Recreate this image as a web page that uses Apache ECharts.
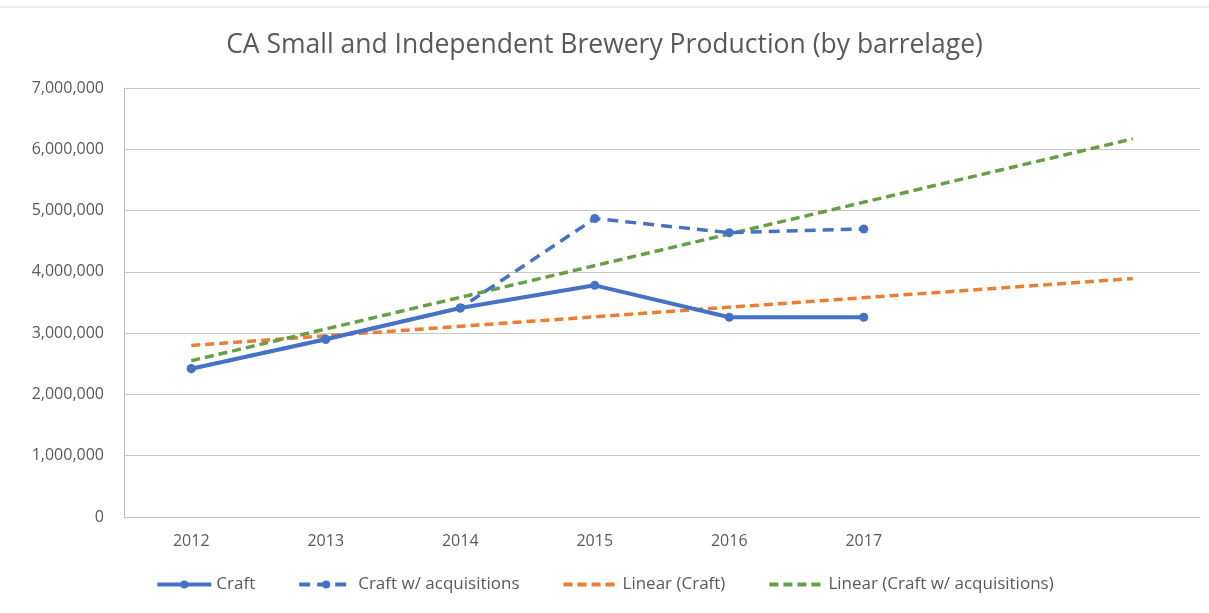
<!DOCTYPE html>
<html>
<head>
<meta charset="utf-8">
<script src="https://cdn.jsdelivr.net/npm/echarts@6/dist/echarts.min.js"></script>
<style>
  html, body { margin: 0; padding: 0; background: #ffffff; }
  #chart { width: 1209px; height: 613px; }
</style>
</head>
<body>
<div id="chart"></div>
<script>
  // categories (last two are empty, trendlines forecast into them)
  const years = ['2012', '2013', '2014', '2015', '2016', '2017', '', '']
  const craft = [2420000, 2900000, 3410000, 3780000, 3260000, 3260000, null, null]
  const craftAcq = [2420000, 2900000, 3410000, 4870000, 4640000, 4700000, null, null]
  // trendline endpoints
  const linearCraft = [2800000, null, null, null, null, null, null, 3890000]
  const linearAcq = [2550000, null, null, null, null, null, null, 6170000]
  const yTicks = { min: 0, max: 7000000, interval: 1000000 }

  const blue = '#4472C4'
  const orange = '#ED7D31'
  const green = '#65A043'
  const textColor = '#595959'
  const font = 'Open Sans'

  let chart = echarts.init(document.getElementById('chart'))
  chart.setOption({
    backgroundColor: '#ffffff',
    animation: false,
    title: {
      text: 'CA Small and Independent Brewery Production (by barrelage)',
      left: 'center',
      top: 27,
      textStyle: { fontFamily: font, fontSize: 26.5, fontWeight: 'normal', color: textColor },
    },
    graphic: [
      {
        type: 'line',
        shape: { x1: 0, y1: 7, x2: 1209, y2: 7 },
        style: { stroke: '#D9D9D9', lineWidth: 1 },
      },
    ],
    grid: { left: 124, right: 9, top: 88, bottom: 96 },
    legend: {
      bottom: 15,
      left: 'center',
      itemWidth: 54,
      itemHeight: 10,
      itemGap: 42,
      lineStyle: { width: 4 },
      textStyle: { fontFamily: font, fontSize: 17, color: textColor },
      data: [
        'Craft',
        'Craft w/ acquisitions',
        { name: 'Linear (Craft)', itemStyle: { opacity: 0 } },
        { name: 'Linear (Craft w/ acquisitions)', itemStyle: { opacity: 0 } },
      ],
    },
    xAxis: {
      type: 'category',
      data: years,
      boundaryGap: true,
      axisLine: { lineStyle: { color: '#BFBFBF', width: 1 } },
      axisTick: { show: false },
      axisLabel: { fontFamily: font, fontSize: 16, color: textColor, margin: 16 },
    },
    yAxis: {
      type: 'value',
      min: yTicks.min,
      max: yTicks.max,
      interval: yTicks.interval,
      axisLine: { show: true, lineStyle: { color: '#BFBFBF', width: 1 } },
      axisTick: { show: false },
      splitLine: { lineStyle: { color: '#C8C8C8', width: 1 } },
      axisLabel: {
        fontFamily: font,
        fontSize: 16,
        color: textColor,
        margin: 20,
        formatter: (v) => v.toLocaleString('en-US'),
      },
    },
    series: [
      {
        name: 'Craft',
        type: 'line',
        data: craft,
        symbol: 'circle',
        symbolSize: 9,
        itemStyle: { color: blue },
        lineStyle: { color: blue, width: 4 },
        z: 4,
      },
      {
        name: 'Craft w/ acquisitions',
        type: 'line',
        data: craftAcq,
        symbol: 'circle',
        symbolSize: 9,
        itemStyle: { color: blue },
        lineStyle: { color: blue, width: 3.5, type: [11, 7] },
        z: 3,
      },
      {
        name: 'Linear (Craft)',
        type: 'line',
        data: linearCraft,
        connectNulls: true,
        symbol: 'none',
        itemStyle: { color: orange },
        lineStyle: { color: orange, width: 3.5, type: [9, 5] },
        z: 2,
      },
      {
        name: 'Linear (Craft w/ acquisitions)',
        type: 'line',
        data: linearAcq,
        connectNulls: true,
        symbol: 'none',
        itemStyle: { color: green },
        lineStyle: { color: green, width: 3.5, type: [9, 5] },
        z: 2,
      },
    ],
  })
  window.onresize = function () {
    chart.resize()
  }
</script>
</body>
</html>
